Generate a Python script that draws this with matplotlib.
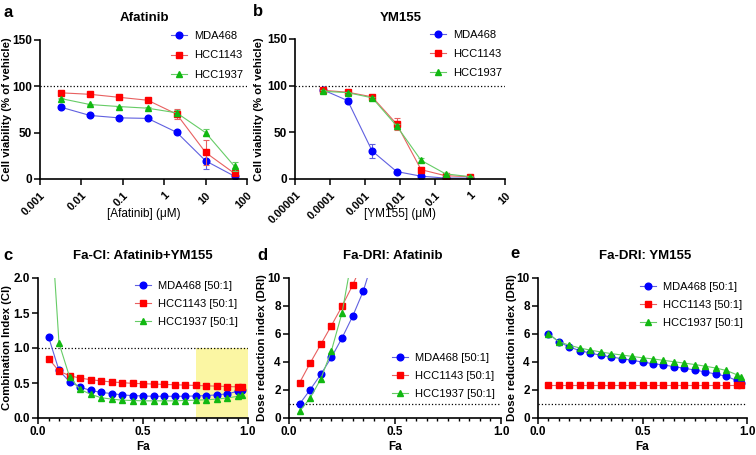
import matplotlib
matplotlib.use('Agg')
import matplotlib.pyplot as plt
from matplotlib.patches import Rectangle
from matplotlib.ticker import FixedLocator, MultipleLocator
import numpy as np

plt.rcParams['font.family'] = ['Liberation Sans', 'DejaVu Sans']

# ---- data ----
lines = ['MDA468', 'HCC1143', 'HCC1937']

afatinib_conc = [0.0032, 0.016, 0.08, 0.4, 2, 10, 50]
afatinib_mda = [77.5, 68.6, 66, 65.4, 50.4, 19.6, 3]
afatinib_1143 = [93, 91.4, 88.2, 85, 70, 28.6, 6]
afatinib_1937 = [86.8, 80.4, 78.2, 76.4, 71.4, 50, 13.6]
afatinib_mda_err = [1, 1, 1, 1, 1.5, 9, 1]
afatinib_1143_err = [1, 1, 1.5, 1, 5, 13, 2]
afatinib_1937_err = [1, 1, 1, 1, 3, 4, 4.5]

ym_conc = [0.000064, 0.00032, 0.0016, 0.008, 0.04, 0.2, 1]
ym_mda = [95.4, 84, 30, 8, 3, 1, 1]
ym_1143 = [95, 93, 88, 59, 10, 3.5, 2.5]
ym_1937 = [94, 92.5, 87, 57, 20, 5.5, 2.5]
ym_mda_err = [1, 3, 8, 1, 1, 0.5, 0.5]
ym_1143_err = [1, 1.5, 2, 6, 3, 1, 0.5]
ym_1937_err = [1, 1, 1, 2, 2, 1, 0.5]

fa = [0.05, 0.1, 0.15, 0.2, 0.25, 0.3, 0.35, 0.4, 0.45, 0.5,
      0.55, 0.6, 0.65, 0.7, 0.75, 0.8, 0.85, 0.9, 0.95, 0.97]

ci_mda = [1.16, 0.68, 0.52, 0.44, 0.395, 0.365, 0.35, 0.33, 0.32, 0.315,
          0.31, 0.31, 0.31, 0.31, 0.315, 0.32, 0.33, 0.345, 0.38, 0.40]
ci_1143 = [0.85, 0.67, 0.605, 0.57, 0.548, 0.53, 0.515, 0.505, 0.495, 0.49,
           0.485, 0.48, 0.475, 0.47, 0.465, 0.46, 0.455, 0.45, 0.445, 0.44]
ci_1937 = [3.4, 1.07, 0.59, 0.41, 0.34, 0.29, 0.27, 0.255, 0.25, 0.245,
           0.245, 0.245, 0.245, 0.25, 0.255, 0.26, 0.27, 0.285, 0.31, 0.33]

dri_afa_fa = [0.05, 0.1, 0.15, 0.2, 0.25, 0.3, 0.35, 0.4]
dri_afa_mda = [1.0, 2.02, 3.12, 4.33, 5.71, 7.26, 9.05, 11.5]
dri_afa_1143 = [2.52, 3.93, 5.26, 6.6, 7.98, 9.48, 11.2, 12.9]
dri_afa_1937 = [0.48, 1.43, 2.79, 4.8, 7.5, 11.7, 15.0, 18.0]

dri_ym_mda = [6.02, 5.43, 5.07, 4.81, 4.64, 4.48, 4.36, 4.24, 4.12, 4.0,
              3.88, 3.79, 3.67, 3.55, 3.43, 3.29, 3.14, 2.98, 2.69, 2.52]
dri_ym_1143 = [2.38] * 20
dri_ym_1937 = [6.02, 5.45, 5.2, 5.0, 4.85, 4.72, 4.6, 4.5, 4.4, 4.3,
               4.22, 4.12, 4.02, 3.92, 3.82, 3.7, 3.57, 3.4, 3.1, 2.9]

marker_colors = ['#0000ff', '#ff0000', '#11b811']
line_colors = ['#6060e0', '#e86060', '#66cc66']
markers = ['o', 's', '^']

W, H = 756, 455
fig = plt.figure(figsize=(W / 100, H / 100), dpi=100)


def px_axes(l, r, t, b):
    ax = fig.add_axes([l / W, 1 - b / H, (r - l) / W, (b - t) / H])
    ax.px = (l, r, t, b)
    return ax


def style(ax, ylab, xlab, ylab_x, xlab_y, xbold=True, rotated=False):
    for s in ['top', 'right']:
        ax.spines[s].set_visible(False)
    for s in ['left', 'bottom']:
        ax.spines[s].set_linewidth(1.2)
    ax.tick_params(which='major', length=4, width=1.1, labelsize=8.5, pad=2)
    ax.tick_params(which='minor', length=2.5, width=1.0)
    if rotated:
        ax.tick_params(axis='x', labelsize=8, pad=4)
    for lab in ax.get_xticklabels() + ax.get_yticklabels():
        lab.set_fontweight('bold')
    l, r, t, b = ax.px
    ax.set_ylabel(ylab, fontsize=8.2, fontweight='bold', va='center')
    ax.yaxis.set_label_coords((ylab_x - l) / (r - l), 0.5)
    ax.set_xlabel(xlab, fontsize=8.5, fontweight='bold' if xbold else 'normal',
                  va='center')
    ax.xaxis.set_label_coords(0.5, (b - xlab_y) / (b - t))


def series(ax, x, ys, errs=None, labels=lines):
    for i, y in enumerate(ys):
        if errs is not None:
            ax.errorbar(x, y, yerr=errs[i], color=line_colors[i], lw=0,
                        capsize=2.5, elinewidth=0.8, capthick=0.8, fmt='none')
        ax.plot(x, y, color=line_colors[i], lw=0.8, marker=markers[i],
                ms=4.8, mfc=marker_colors[i], mec=marker_colors[i],
                label=labels[i])


def legend(ax, x, y, spacing):
    ax.legend(loc='upper left', bbox_to_anchor=(x / W, 1 - y / H),
              bbox_transform=fig.transFigure, frameon=False, borderpad=0,
              borderaxespad=0, handlelength=1.45, handletextpad=0.6,
              labelspacing=spacing, fontsize=8)


def label(x, y, s, size, weight='bold', ha='left'):
    fig.text(x / W, 1 - y / H, s, fontsize=size, fontweight=weight,
             ha=ha, va='baseline')


# ---- a ----
ax = px_axes(40, 247, 40, 179)
ax.axhline(100, ls=':', color='black', lw=0.9)
series(ax, afatinib_conc, [afatinib_mda, afatinib_1143, afatinib_1937],
       [afatinib_mda_err, afatinib_1143_err, afatinib_1937_err])
ax.set_xscale('log')
ax.set_xlim(0.001, 100)
ax.set_ylim(0, 150)
ax.xaxis.set_major_locator(FixedLocator([0.001, 0.01, 0.1, 1, 10, 100]))
ax.xaxis.set_minor_locator(FixedLocator([]))
ax.set_xticklabels(['0.001', '0.01', '0.1', '1', '10', '100'],
                   rotation=45, ha='right', rotation_mode='anchor')
ax.set_yticks([0, 50, 100, 150])
style(ax, 'Cell viability (% of vehicle)', '[Afatinib] (μM)', 7, 214,
      xbold=False, rotated=True)
legend(ax, 171, 31, 0.85)

# ---- b ----
ax = px_axes(295, 505, 39, 179)
ax.axhline(100, ls=':', color='black', lw=0.9)
series(ax, ym_conc, [ym_mda, ym_1143, ym_1937],
       [ym_mda_err, ym_1143_err, ym_1937_err])
ax.set_xscale('log')
ax.set_xlim(0.00001, 10)
ax.set_ylim(0, 150)
ax.xaxis.set_major_locator(FixedLocator([1e-5, 1e-4, 1e-3, 1e-2, 0.1, 1, 10]))
ax.xaxis.set_minor_locator(FixedLocator([]))
ax.set_xticklabels(['0.00001', '0.0001', '0.001', '0.01', '0.1', '1', '10'],
                   rotation=45, ha='right', rotation_mode='anchor')
ax.set_yticks([0, 50, 100, 150])
style(ax, 'Cell viability (% of vehicle)', '[YM155] (μM)', 259, 214,
      xbold=False, rotated=True)
legend(ax, 430, 30, 0.8)

# ---- c ----
ax = px_axes(38, 248, 278, 418)
ax.add_patch(Rectangle((0.75, 0), 0.25, 1.0, color='#fbf6a3', zorder=0, lw=0))
ax.axhline(1, ls=':', color='black', lw=0.9)
c_labels = [n + ' [50:1]' for n in lines]
series(ax, fa, [ci_mda, ci_1143, ci_1937], labels=c_labels)
ax.set_xlim(0, 1)
ax.set_ylim(0, 2)
ax.set_xticks([0, 0.5, 1.0])
ax.set_xticklabels(['0.0', '0.5', '1.0'])
ax.xaxis.set_minor_locator(MultipleLocator(0.05))
ax.set_yticks([0, 0.5, 1.0, 1.5, 2.0])
style(ax, 'Combination Index (CI)', 'Fa', 7, 447)
legend(ax, 135, 281, 0.72)

# ---- d ----
ax = px_axes(289, 501, 278, 418)
ax.axhline(1, ls=':', color='black', lw=0.9)
series(ax, dri_afa_fa, [dri_afa_mda, dri_afa_1143, dri_afa_1937],
       labels=c_labels)
ax.set_xlim(0, 1)
ax.set_ylim(0, 10)
ax.set_xticks([0, 0.5, 1.0])
ax.set_xticklabels(['0.0', '0.5', '1.0'])
ax.xaxis.set_minor_locator(MultipleLocator(0.05))
ax.set_yticks([0, 2, 4, 6, 8, 10])
style(ax, 'Dose reduction index (DRI)', 'Fa', 262, 447)
legend(ax, 392, 353, 0.72)

# ---- e ----
ax = px_axes(538, 747, 278, 418)
ax.axhline(1, ls=':', color='black', lw=0.9)
series(ax, fa, [dri_ym_mda, dri_ym_1143, dri_ym_1937], labels=c_labels)
ax.set_xlim(0, 1)
ax.set_ylim(0, 10)
ax.set_xticks([0, 0.5, 1.0])
ax.set_xticklabels(['0.0', '0.5', '1.0'])
ax.xaxis.set_minor_locator(MultipleLocator(0.05))
ax.set_yticks([0, 2, 4, 6, 8, 10])
style(ax, 'Dose reduction index (DRI)', 'Fa', 512, 447)
legend(ax, 640, 282, 0.72)

# ---- panel letters and titles ----
label(3, 17, 'a', 12)
label(253, 16, 'b', 12)
label(3, 260, 'c', 12)
label(257, 260, 'd', 12)
label(510, 258, 'e', 12)
label(144, 21, 'Afatinib', 9.5, ha='center')
label(401, 21, 'YM155', 9.5, ha='center')
label(143, 259, 'Fa-CI: Afatinib+YM155', 9.5, ha='center')
label(393, 259, 'Fa-DRI: Afatinib', 9.5, ha='center')
label(645, 259, 'Fa-DRI: YM155', 9.5, ha='center')

fig.savefig('out.png', dpi=100)
